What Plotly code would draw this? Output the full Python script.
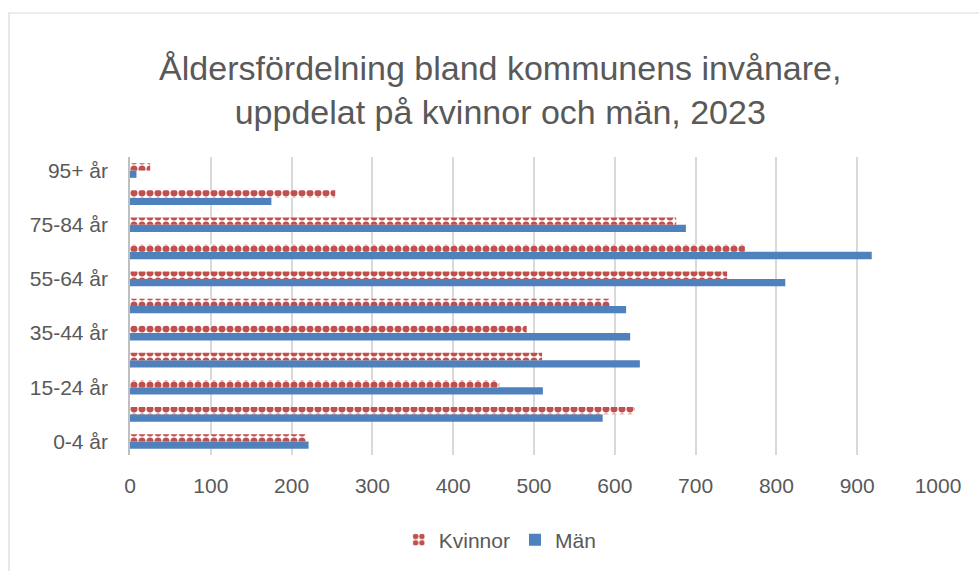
import plotly.graph_objects as go

categories = ["0-4 år", "5-14 år", "15-24 år", "25-34 år", "35-44 år", "45-54 år",
              "55-64 år", "65-74 år", "75-84 år", "85-94 år", "95+ år"]
kvinnor = [218, 625, 457, 510, 491, 594, 739, 761, 676, 254, 25]
man = [221, 585, 511, 631, 619, 614, 811, 918, 688, 175, 8]
shown_ticks = ["0-4 år", "15-24 år", "35-44 år", "55-64 år", "75-84 år", "95+ år"]
x_ticks = [0, 100, 200, 300, 400, 500, 600, 700, 800, 900, 1000]

title_text = "Åldersfördelning bland kommunens invånare,<br>uppdelat på kvinnor och män, 2023"

RED = "#C0504D"
BLUE = "#4F81BD"
GREY_TXT = "#595959"
FONT = "Liberation Sans, Arial, sans-serif"

fig = go.Figure()
fig.add_trace(go.Bar(
    y=categories, x=man, name="Män", orientation="h",
    marker=dict(color=BLUE, line=dict(width=0)),
    legendrank=2,
))
fig.add_trace(go.Bar(
    y=categories, x=kvinnor, name="Kvinnor", orientation="h",
    marker=dict(color="white", line=dict(width=0),
                pattern=dict(shape=".", fgcolor=RED, bgcolor="white",
                             size=8, solidity=0.6, fillmode="replace")),
    legendrank=1,
))

ml, mr, mt, mb = 130, 41, 157, 116
W, H = 979, 571
pw = W - ml - mr
ph = H - mt - mb

def px_x(x):
    return (x - ml) / pw

def px_y(y):
    return (H - mb - y) / ph

fig.add_shape(type="rect", xref="paper", yref="paper",
              x0=px_x(9), x1=px_x(990), y0=px_y(585), y1=px_y(13),
              line=dict(color="#D9D9D9", width=1.2), fillcolor="rgba(0,0,0,0)",
              layer="below")

fig.update_layout(
    width=W, height=H,
    margin=dict(l=ml, r=mr, t=mt, b=mb, autoexpand=False),
    paper_bgcolor="white", plot_bgcolor="white",
    barmode="group", bargap=0.46, bargroupgap=0,
    font=dict(family=FONT, color=GREY_TXT, size=21),
    title=dict(text=title_text, x=0.511, xref="container", xanchor="center",
               y=1 - 80 / H, yref="container", yanchor="middle",
               font=dict(family=FONT, size=34, color=GREY_TXT)),
    xaxis=dict(range=[0, 1000], tickvals=x_ticks, showgrid=True,
               gridcolor="#D9D9D9", gridwidth=1.5, zeroline=False,
               showline=False, ticks="", ticklabelstandoff=16, automargin=False,
               tickfont=dict(size=21, color=GREY_TXT)),
    yaxis=dict(tickvals=shown_ticks, categoryorder="array", categoryarray=categories,
               showgrid=False, showline=True, linecolor="#BFBFBF", linewidth=1.5,
               ticks="", ticklabelstandoff=16, zeroline=False, automargin=False,
               tickfont=dict(size=21, color=GREY_TXT)),
    legend=dict(orientation="h", x=0.511, xref="container", xanchor="center",
                y=1 - 540 / H, yref="container", yanchor="middle",
                font=dict(size=21, color=GREY_TXT), itemwidth=30),
    showlegend=True,
)

fig.write_html("out.html", config={"displayModeBar": False},
               post_script="document.body.style.margin='0';document.body.style.overflow='hidden';")
